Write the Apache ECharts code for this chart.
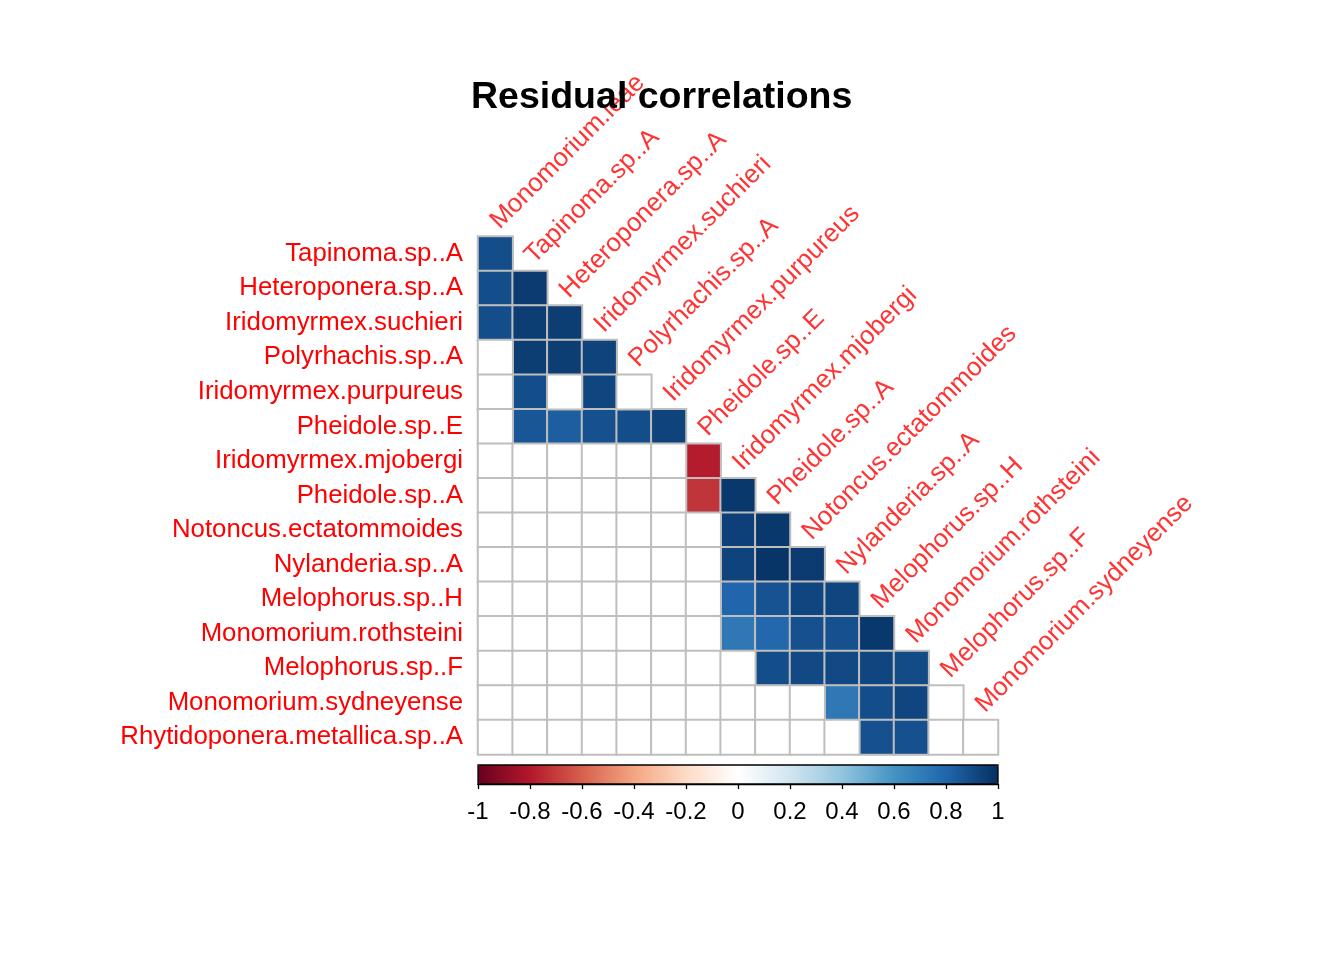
<!DOCTYPE html>
<html>
<head>
<meta charset="utf-8">
<title>Residual correlations</title>
<script src="https://cdn.jsdelivr.net/npm/echarts@6/dist/echarts.min.js"></script>
<style>
  html, body { margin: 0; padding: 0; background: #fff; }
  #chart { width: 1344px; height: 960px; }
</style>
</head>
<body>
<div id="chart"></div>
<script>
// species along the top (columns) and down the side (rows)
const colSpecies = [
    'Monomorium.leae', 'Tapinoma.sp..A', 'Heteroponera.sp..A', 'Iridomyrmex.suchieri',
    'Polyrhachis.sp..A', 'Iridomyrmex.purpureus', 'Pheidole.sp..E', 'Iridomyrmex.mjobergi',
    'Pheidole.sp..A', 'Notoncus.ectatommoides', 'Nylanderia.sp..A', 'Melophorus.sp..H',
    'Monomorium.rothsteini', 'Melophorus.sp..F', 'Monomorium.sydneyense'
];
const rowSpecies = [
    'Tapinoma.sp..A', 'Heteroponera.sp..A', 'Iridomyrmex.suchieri', 'Polyrhachis.sp..A',
    'Iridomyrmex.purpureus', 'Pheidole.sp..E', 'Iridomyrmex.mjobergi', 'Pheidole.sp..A',
    'Notoncus.ectatommoides', 'Nylanderia.sp..A', 'Melophorus.sp..H', 'Monomorium.rothsteini',
    'Melophorus.sp..F', 'Monomorium.sydneyense', 'Rhytidoponera.metallica.sp..A'
];

// lower triangle, null = blank cell
const n = null;
const corrRows = [
    [0.89],
    [0.89, 0.96],
    [0.89, 0.95, 0.95],
    [n, 0.95, 0.95, 0.93],
    [n, 0.89, n, 0.92, n],
    [n, 0.86, 0.83, 0.88, 0.89, 0.93],
    [n, n, n, n, n, n, -0.79],
    [n, n, n, n, n, n, -0.72, 0.97],
    [n, n, n, n, n, n, n, 0.94, 0.97],
    [n, n, n, n, n, n, n, 0.93, 0.98, 0.96],
    [n, n, n, n, n, n, n, 0.80, 0.87, 0.92, 0.92],
    [n, n, n, n, n, n, n, 0.72, 0.79, 0.88, 0.88, 0.97],
    [n, n, n, n, n, n, n, n, 0.89, 0.91, 0.91, 0.92, 0.90],
    [n, n, n, n, n, n, n, n, n, n, 0.72, 0.89, 0.92, n],
    [n, n, n, n, n, n, n, n, n, n, n, 0.88, 0.88, n, n]
];

const rdbu = ['#67001F', '#B2182B', '#D6604D', '#F4A582', '#FDDBC7', '#FFFFFF',
              '#D1E5F0', '#92C5DE', '#4393C3', '#2166AC', '#053061'];

const filled = [];
const blank = [];
corrRows.forEach(function(row, i) {
    row.forEach(function(v, j) {
        if (v === null) blank.push([j, i, 0]);
        else filled.push([j, i, v]);
    });
});
// column names sit on top of the diagonal cells
const diagLabels = colSpecies.map(function(name, i) {
    return { name: name, value: [i, i] };
});

const font = "'Liberation Sans', Arial, sans-serif";
const chart = echarts.init(document.getElementById('chart'));
chart.setOption({
    animation: false,
    backgroundColor: '#fff',
    textStyle: { fontFamily: font },
    title: {
        text: 'Residual correlations',
        left: 466, top: 74,
        textStyle: { fontSize: 37.5, fontWeight: 'bold', color: '#000', fontFamily: font }
    },
    grid: [
        { left: 478, top: 236.5, width: 520, height: 518 },
        { left: 478, top: 765, width: 520, height: 19, show: true, z: 10,
          borderColor: '#000', borderWidth: 1.3, backgroundColor: 'rgba(0,0,0,0)' }
    ],
    xAxis: [
        {
            type: 'category', data: colSpecies, gridIndex: 0, position: 'top',
            axisLine: { show: false }, axisTick: { show: false }, axisLabel: { show: false },
            splitLine: { show: false }
        },
        {
            type: 'value', gridIndex: 1, min: -1, max: 1, interval: 0.2, position: 'bottom',
            axisLine: { show: true, lineStyle: { color: '#000', width: 1.3 } },
            axisTick: { show: true, length: 5, lineStyle: { color: '#000', width: 1.3 } },
            axisLabel: { color: '#000', fontSize: 24, margin: 16, fontFamily: font },
            splitLine: { show: false }
        }
    ],
    yAxis: [
        {
            type: 'category', data: rowSpecies, gridIndex: 0, inverse: true,
            axisLine: { show: false }, axisTick: { show: false },
            axisLabel: { color: '#FF0000', fontSize: 25.8, margin: 15, padding: [6, 0, 0, 0],
                         fontFamily: font },
            splitLine: { show: false }
        },
        { type: 'value', gridIndex: 1, show: false, min: 0, max: 1 }
    ],
    visualMap: {
        type: 'continuous', seriesIndex: 0, min: -1, max: 1,
        orient: 'horizontal', left: 478, top: 765, padding: 0,
        itemWidth: 19, itemHeight: 520, calculable: false, hoverLink: false,
        inRange: { color: rdbu }
    },
    series: [
        {
            type: 'heatmap', data: filled, xAxisIndex: 0, yAxisIndex: 0,
            itemStyle: { borderColor: '#BEBEBE', borderWidth: 2 },
            emphasis: { disabled: true }
        },
        {
            type: 'heatmap', data: blank, xAxisIndex: 0, yAxisIndex: 0,
            itemStyle: { color: '#FFFFFF', borderColor: '#BEBEBE', borderWidth: 2 },
            emphasis: { disabled: true }
        },
        {
            type: 'scatter', data: diagLabels, xAxisIndex: 0, yAxisIndex: 0,
            symbol: 'rect', symbolSize: [1, 34.5],
            itemStyle: { color: 'rgba(0,0,0,0)' },
            label: {
                show: true, formatter: '{b}', position: [9, -2.5],
                rotate: 45, align: 'left', verticalAlign: 'bottom',
                color: '#FF0000', fontSize: 25.8, fontFamily: font
            },
            silent: true
        }
    ]
});
</script>
</body>
</html>
